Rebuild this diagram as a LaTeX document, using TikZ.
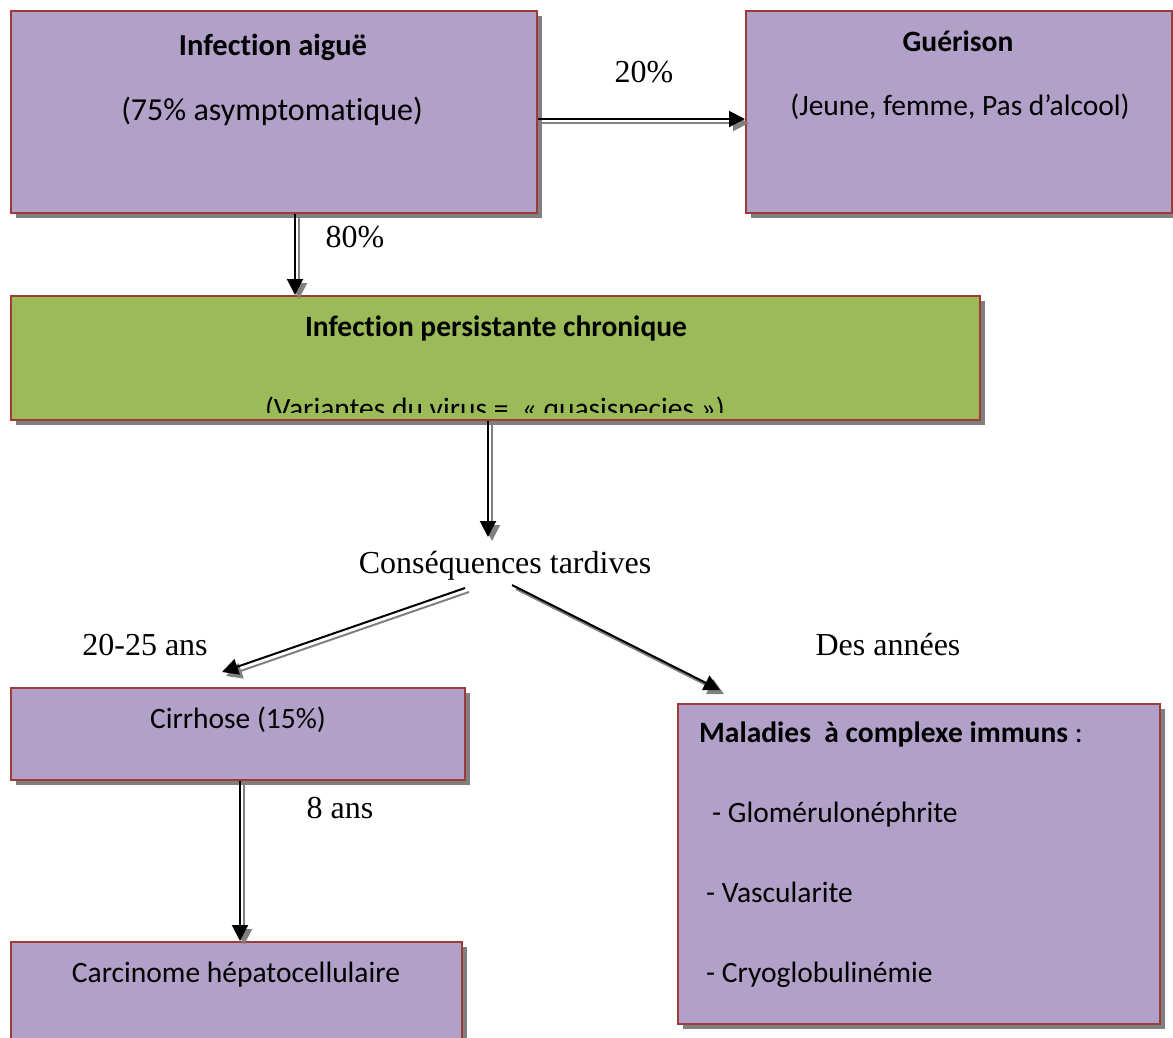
\documentclass[tikz,border=0pt]{standalone}
\usepackage{fontspec}
\setmainfont{Liberation Serif}
\newfontfamily\calf[Ligatures={NoCommon}]{Carlito}
\usetikzlibrary{arrows.meta,shadows,calc}
\definecolor{lav}{RGB}{177,160,199}
\definecolor{grn}{RGB}{155,187,89}
\definecolor{bord}{RGB}{160,58,56}
\definecolor{shd}{RGB}{128,128,128}
\tikzset{
  box/.style={draw=bord, line width=2pt, rectangle, inner sep=0pt,
    general shadow={fill=shd, shadow xshift=5pt, shadow yshift=-5pt}},
  sans/.style={font=\calf\fontsize{29.5}{34}\selectfont, inner sep=0pt, anchor=base},
  sansb/.style={font=\calf\bfseries\fontsize{29.5}{34}\selectfont, inner sep=0pt, anchor=base},
  serif/.style={font=\fontsize{32}{37}\selectfont, inner sep=0pt, anchor=base},
  arr/.style={line width=2pt, -{Triangle[length=16pt,width=16pt]},
    preaction={draw=shd, line width=2pt, -{Triangle[length=16pt,width=16pt]},
      transform canvas={xshift=4pt,yshift=-4pt}}}
}
\begin{document}
\begin{tikzpicture}[x=1pt,y=-1pt]
\useasboundingbox (0,0) rectangle (1173,1037);
% boxes
\node[box, fill=lav, minimum width=526pt, minimum height=202pt] (b1) at (274,112) {};
\node[box, fill=lav, minimum width=426pt, minimum height=202pt] (b2) at (959,112) {};
\node[box, fill=grn, minimum width=969pt, minimum height=124pt] (g) at (495.5,358) {};
\node[box, fill=lav, minimum width=454pt, minimum height=92pt] (cir) at (238,734) {};
\node[box, fill=lav, minimum width=451pt, minimum height=110pt] (car) at (236.5,997) {};
\node[box, fill=lav, minimum width=482pt, minimum height=320pt] (mal) at (919,864) {};
% box texts
\node[sansb, font=\calf\bfseries\fontsize{30.5}{35}\selectfont] (t1) at (273,55) {Infection aiguë};
\node[sans, font=\calf\fontsize{32}{37}\selectfont] (t2) at (272,120) {(75\% asymptomatique)};
\node[sansb] (t3) at (958,51) {Guérison};
\node[sans] (t4) at (960,115) {(Jeune, femme, Pas d’alcool)};
\node[sansb] (t5) at (496,336) {Infection persistante chronique};
\begin{scope}
\clip (12,297) rectangle (979,412);
\node[sans] (t6) at (495,418) {(Variantes du virus =\ \ « quasispecies »)};
\end{scope}
\node[sans] (t7) at (238,728) {Cirrhose (15\%)};
\node[sans] (t8) at (236,982) {Carcinome hépatocellulaire};
\node[sans, anchor=base west] (m1) at (699,742) {\textbf{Maladies\ \ à complexe immuns} :};
\node[sans, anchor=base west] (m2) at (712,822) {- Glomérulonéphrite};
\node[sans, anchor=base west] (m3) at (706,902) {- Vascularite};
\node[sans, anchor=base west] (m4) at (706,982) {- Cryoglobulinémie};
% free labels
\node[serif] (l20) at (644,82) {20\%};
\node[serif] (l80) at (355,247) {80\%};
\node[serif] (cq) at (505,573) {Conséquences tardives};
\node[serif] (l2025) at (145,655) {20-25 ans};
\node[serif] (lda) at (888,655) {Des années};
\node[serif] (l8) at (340,818) {8 ans};
% arrows
\draw[arr] ([yshift=-7pt]b1.east) -- ([yshift=-7pt]b2.west);
\draw[arr] ([xshift=21pt]b1.south) -- ([xshift=21pt]b1.south |- g.north);
\draw[arr] ([xshift=-7.5pt]g.south) -- ($(cq.base)+(-17,-36)$);
\draw[arr] ($(cq.base)+(-40,15)$) -- ($(cir.north)+(-16,-15)$);
\draw[arr] ($(cq.base)+(7,12)$) -- ($(mal.north)+(-199,-13)$);
\draw[arr] ([xshift=2pt]cir.south) -- ([xshift=2pt]cir.south |- car.north);
\end{tikzpicture}
\end{document}
